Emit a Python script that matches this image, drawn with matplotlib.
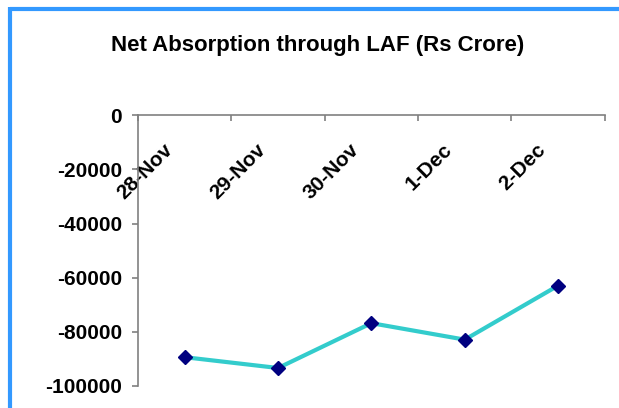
import matplotlib
matplotlib.use("Agg")
import matplotlib.pyplot as plt
from matplotlib.lines import Line2D
from matplotlib.transforms import ScaledTranslation

plt.rcParams["font.family"] = ["Liberation Sans", "DejaVu Sans"]
plt.rcParams["font.weight"] = "bold"

# Net absorption through LAF, Rs crore
dates = ["28-Nov", "29-Nov", "30-Nov", "1-Dec", "2-Dec"]
absorption = [-89500, -93500, -76900, -83000, -63000]
y_ticks = [0, -20000, -40000, -60000, -80000, -100000]
y_labels = ["0", "-20000", "-40000", "-60000", "-80000", "-100000"]

fig = plt.figure(figsize=(6.19, 4.08), dpi=100)
ax = fig.add_axes([0.223, 0.055, 0.754, 0.662])

x = list(range(len(dates)))
ax.plot(x, absorption, color="#33CCCC", linewidth=3, zorder=2)
ax.plot(x, absorption, linestyle="none", marker="D", markersize=7.5,
        color="#000080", zorder=3)

ax.set_xlim(-0.5, len(dates) - 0.5)
ax.set_ylim(-100000, 0)

# category axis sits at y = 0 (top), labels hang below it
for side in ("top", "right"):
    ax.spines[side].set_visible(False)
ax.spines["bottom"].set_position(("data", 0))
for side in ("left", "bottom"):
    ax.spines[side].set_color("#808080")
    ax.spines[side].set_linewidth(1.2)

ax.set_xticks([i - 0.5 for i in range(len(dates) + 1)])
ax.set_xticklabels([])
ax.set_xticks(x, minor=True)
ax.set_xticklabels(dates, minor=True, rotation=45, ha="right", va="top",
                   rotation_mode="anchor", fontsize=15, fontweight="bold")
ax.tick_params(axis="x", which="major", direction="out", length=4.5,
               color="#808080", width=1.2)
ax.tick_params(axis="x", which="minor", length=0, pad=2.5)
shift = ScaledTranslation(-22 / 100, -21 / 100, fig.dpi_scale_trans)
for lbl in ax.get_xticklabels(minor=True):
    lbl.set_transform(lbl.get_transform() + shift)

ax.set_yticks(y_ticks)
ax.set_yticklabels(y_labels, fontsize=15, fontweight="bold")
ax.tick_params(axis="y", direction="out", length=4.5, color="#808080",
               width=1.2, pad=7)

fig.text(318 / 619, 1 - 45 / 408, "Net Absorption through LAF (Rs Crore)",
         ha="center", va="center", fontsize=16, fontweight="bold")

# blue chart frame along the top and left edges
frame = dict(color="#3399FF", linewidth=3, solid_capstyle="butt",
             transform=fig.transFigure)
fig.add_artist(Line2D([10 / 619, 1], [1 - 9 / 408, 1 - 9 / 408], **frame))
fig.add_artist(Line2D([10 / 619, 10 / 619], [0, 1 - 7 / 408], **frame))

fig.savefig("out.png", dpi=100)
